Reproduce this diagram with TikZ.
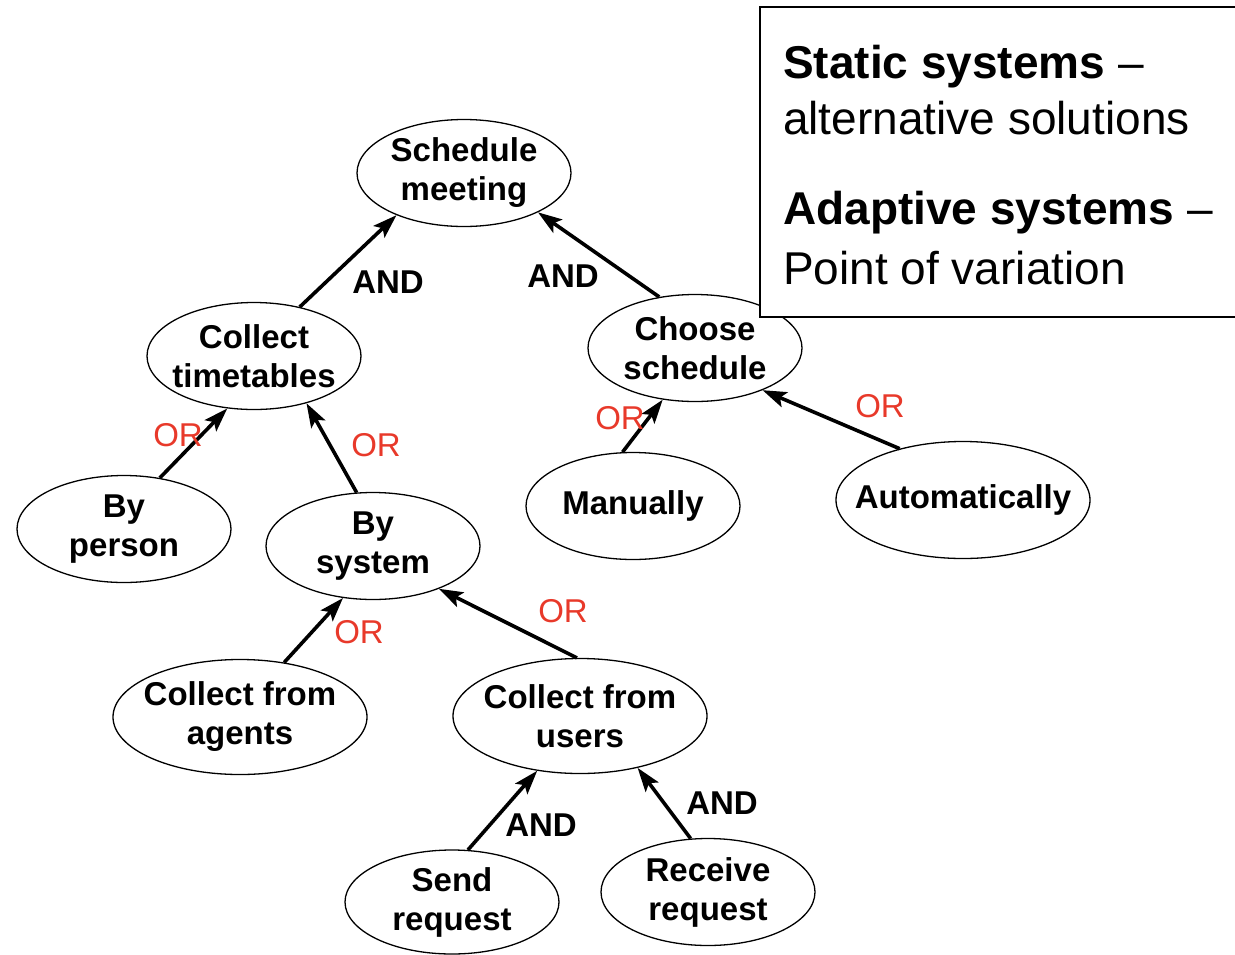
\documentclass[tikz,border=0pt]{standalone}
\usepackage{fontspec}
\setmainfont{Liberation Sans}
\usetikzlibrary{shapes.geometric,arrows.meta}
\definecolor{orred}{HTML}{E8392A}
\begin{document}
\begin{tikzpicture}[x=1pt,y=-1pt,
  goal/.style={ellipse, draw, line width=1.3pt, inner xsep=-40pt, inner ysep=-10pt, align=center,
    font=\bfseries\fontsize{33}{39}\selectfont},
  wide/.style={goal, minimum width=254pt, minimum height=115pt},
  narrow/.style={goal, minimum width=214pt, minimum height=107pt},
  link/.style={line width=3.6pt, -{Stealth[length=24pt,width=16pt,inset=5pt]}},
  andlbl/.style={font=\bfseries\fontsize{33}{33}\selectfont},
  orlbl/.style={text=orred, font=\fontsize{33}{33}\selectfont},
  note/.style={anchor=base west, inner sep=0pt, font=\fontsize{46}{46}\selectfont}]
\useasboundingbox (0,0) rectangle (1235,954);

% goal tree
\node[narrow] (sm) at (464,173) {Schedule\\meeting};
\node[narrow] (ct) at (254,356) {Collect\\timetables};
\node[narrow] (cs) at (695,348) {Choose\\schedule};
\node[narrow] (bp) at (124,529) {By\\person};
\node[narrow] (bs) at (373,546) {By\\system};
\node[narrow] (mn) at (633,506) {Manually};
\node[wide, minimum height=117pt] (au) at (963,500) {Automatically};
\node[wide] (ca) at (240,717) {Collect from\\agents};
\node[wide] (cu) at (580,716) {Collect from\\users};
\node[narrow, minimum height=104pt] (sr) at (452,902) {Send\\request};
\node[narrow] (rr) at (708,892) {Receive\\request};

% refinement links
\draw[link] (ct.47)  -- (sm.212);
\draw[link] (cs.125) -- (sm.332);
\draw[link] (bp.55)  -- (ct.243);
\draw[link] (bs.107) -- (ct.318);
\draw[link] (mn.101) -- (cs.238);
\draw[link] (au.141) -- (cs.328);
\draw[link] (ca.51)  -- (bs.240);
\draw[link] (cu.93)  -- (bs.327);
\draw[link] (sr.73)  -- (cu.232);
\draw[link] (rr.108) -- (cu.318);

% decomposition labels
\node[andlbl] (l1) at (388,282) {AND};
\node[andlbl] (l2) at (563,276) {AND};
\node[orlbl]  (l3) at (178,435) {OR};
\node[orlbl]  (l4) at (376,445) {OR};
\node[orlbl]  (l5) at (620,418) {OR};
\node[orlbl]  (l6) at (880,406) {OR};
\node[orlbl]  (l7) at (359,632) {OR};
\node[orlbl]  (l8) at (563,611) {OR};
\node[andlbl] (l9) at (541,825) {AND};
\node[andlbl] (l10) at (722,803) {AND};

% legend box
\draw[line width=2pt, fill=white] (760,7) rectangle (1250,317);
\node[note] (n1) at (783,78)  {\textbf{Static systems} –};
\node[note] (n2) at (783,134) {alternative solutions};
\node[note] (n3) at (783,224) {\textbf{Adaptive systems} –};
\node[note] (n4) at (783,284) {Point of variation};
\end{tikzpicture}
\end{document}
